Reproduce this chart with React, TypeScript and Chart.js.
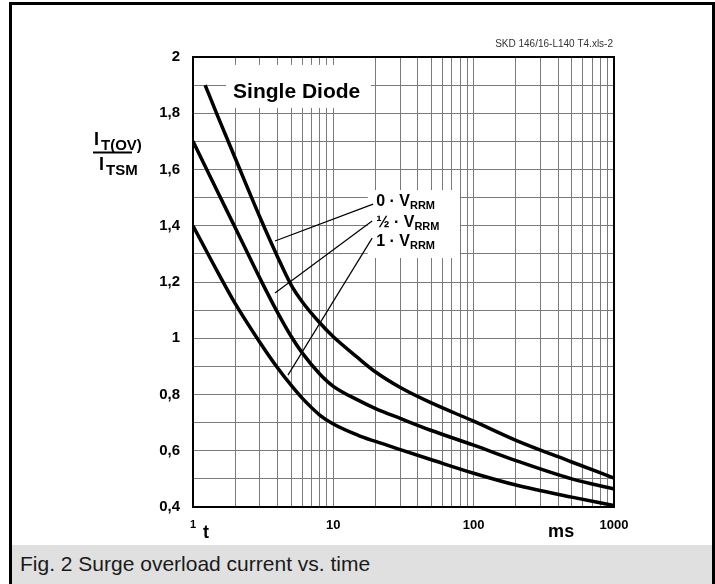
import React, { useEffect, useRef } from 'react';
import { Chart, registerables } from 'chart.js';

Chart.register(...registerables);

// ---- data ----
const curve0T = [1.22, 1.5, 2, 3, 4, 5, 6, 8, 10, 15, 20, 30, 50, 100, 200, 500, 1000];
const curve0I = [1.9, 1.79, 1.64, 1.43, 1.29, 1.19, 1.13, 1.055, 1.005, 0.93, 0.88, 0.825, 0.77, 0.705, 0.637, 0.56, 0.503];

const curveHalfT = [1, 1.5, 2, 3, 4, 5, 6, 8, 10, 15, 20, 30, 50, 100, 200, 500, 1000];
const curveHalfI = [1.7, 1.52, 1.393, 1.213, 1.092, 1.007, 0.948, 0.873, 0.829, 0.78, 0.75, 0.715, 0.672, 0.62, 0.565, 0.5, 0.464];

const curve1T = [1, 1.5, 2, 3, 4, 5, 6, 8, 10, 15, 20, 30, 50, 100, 200, 500, 1000];
const curve1I = [1.4, 1.235, 1.123, 0.985, 0.895, 0.833, 0.787, 0.727, 0.695, 0.655, 0.633, 0.604, 0.568, 0.52, 0.478, 0.435, 0.405];

const seriesNames = ['0 · V', '½ · V', '1 · V'];
const seriesSub = 'RRM';

const xGridValues = [1, 2, 3, 4, 5, 6, 7, 8, 9, 10, 20, 30, 40, 50, 60, 70, 80, 90, 100, 200, 300, 400, 500, 600, 700, 800, 900, 1000];
const xLabelValues = [1, 10, 100, 1000];
const xTickLabels = ['1', '10', '100', '1000'];

const yGridValues = [0.4, 0.5, 0.6, 0.7, 0.8, 0.9, 1.0, 1.1, 1.2, 1.3, 1.4, 1.5, 1.6, 1.7, 1.8, 1.9, 2.0];
const yLabelValues = [0.4, 0.6, 0.8, 1.0, 1.2, 1.4, 1.6, 1.8, 2.0];
const yTickLabels = ['0,4', '0,6', '0,8', '1', '1,2', '1,4', '1,6', '1,8', '2'];

// annotation anchors in data coordinates
const legendTextT = 20.2;
const legendTextI = [1.47, 1.397, 1.328];
const leaderFromT = [19.2, 18.9, 18.9];
const leaderFromI = [1.477, 1.417, 1.356];
const leaderToT = [3.84, 3.84, 4.75];
const leaderToI = [1.346, 1.161, 0.869];
const legendBoxT = [17.6, 79.7];
const legendBoxI = [1.285, 1.527];
const titleText = 'Single Diode';
const titleT = 1.93;
const titleI = 1.854;
const titleBoxT = [1.72, 18.5];
const titleBoxI = [1.819, 1.972];
const xUnitT = 1.24;
const xUnitMsT = 420;
const sourceText = 'SKD 146/16-L140 T4.xls-2';
const captionText = 'Fig. 2 Surge overload current vs. time';

const FONT = '"Liberation Sans", Arial, Helvetica, sans-serif';
const GRID = '#7a7a7a';

const toPoints = (ts: number[], is: number[]) => ts.map((t, i) => ({ x: t, y: is[i] }));

const annotPlugin = {
  id: 'annot',
  beforeDatasetsDraw(chart: any) {
    const { ctx, scales } = chart;
    const x = scales.x, y = scales.y;
    ctx.save();
    ctx.fillStyle = '#ffffff';
    const fillBox = (ts: number[], is: number[]) => {
      const x0 = x.getPixelForValue(ts[0]);
      const x1 = x.getPixelForValue(ts[1]);
      const y0 = y.getPixelForValue(is[1]);
      const y1 = y.getPixelForValue(is[0]);
      ctx.fillRect(x0, y0, x1 - x0, y1 - y0);
    };
    fillBox(titleBoxT, titleBoxI);
    fillBox(legendBoxT, legendBoxI);
    ctx.restore();
  },
  afterDatasetsDraw(chart: any) {
    const { ctx, scales, chartArea } = chart;
    const x = scales.x, y = scales.y;
    ctx.save();
    // plot border
    ctx.strokeStyle = '#000';
    ctx.lineWidth = 2;
    ctx.strokeRect(chartArea.left, chartArea.top, chartArea.right - chartArea.left, chartArea.bottom - chartArea.top);

    // leader lines
    ctx.lineWidth = 1.2;
    for (let i = 0; i < leaderFromT.length; i++) {
      ctx.beginPath();
      ctx.moveTo(x.getPixelForValue(leaderFromT[i]), y.getPixelForValue(leaderFromI[i]));
      ctx.lineTo(x.getPixelForValue(leaderToT[i]), y.getPixelForValue(leaderToI[i]));
      ctx.stroke();
    }

    // legend labels
    ctx.fillStyle = '#000';
    ctx.textBaseline = 'alphabetic';
    ctx.textAlign = 'left';
    for (let i = 0; i < seriesNames.length; i++) {
      const lx = x.getPixelForValue(legendTextT);
      const ly = y.getPixelForValue(legendTextI[i]);
      ctx.font = `bold 16px ${FONT}`;
      ctx.fillText(seriesNames[i], lx, ly);
      const w = ctx.measureText(seriesNames[i]).width;
      ctx.font = `bold 11px ${FONT}`;
      ctx.fillText(seriesSub, lx + w, ly + 3);
    }

    // title
    ctx.font = `bold 21px ${FONT}`;
    ctx.fillText(titleText, x.getPixelForValue(titleT), y.getPixelForValue(titleI));
    ctx.restore();
  },
  afterDraw(chart: any) {
    const { ctx, scales, chartArea } = chart;
    const x = scales.x;
    ctx.save();
    ctx.fillStyle = '#000';
    ctx.textBaseline = 'alphabetic';
    ctx.textAlign = 'left';
    // y-axis title as fraction
    ctx.font = `bold 18px ${FONT}`;
    ctx.fillText('I', 94, 145);
    ctx.font = `bold 15px ${FONT}`;
    ctx.fillText('T(OV)', 101, 150);
    ctx.fillRect(93, 151.5, 39, 2);
    ctx.font = `bold 18px ${FONT}`;
    ctx.fillText('I', 99, 170);
    ctx.font = `bold 15px ${FONT}`;
    ctx.fillText('TSM', 106, 175);

    // x axis unit labels
    ctx.textAlign = 'center';
    ctx.textBaseline = 'middle';
    ctx.font = `bold 18px ${FONT}`;
    ctx.fillText('t', x.getPixelForValue(xUnitT), chartArea.bottom + 26);
    ctx.fillText('ms', x.getPixelForValue(xUnitMsT), chartArea.bottom + 25);

    // source text
    ctx.textAlign = 'right';
    ctx.textBaseline = 'alphabetic';
    ctx.font = `10px ${FONT}`;
    ctx.fillStyle = '#333';
    ctx.fillText(sourceText, chartArea.right - 1, 47);
    ctx.restore();
  },
};

export default function App() {
  const canvasRef = useRef<HTMLCanvasElement | null>(null);

  useEffect(() => {
    const canvas = canvasRef.current;
    if (!canvas) return;
    const lineStyle = {
      borderColor: '#000',
      borderWidth: 3.5,
      pointRadius: 0,
      fill: false,
      cubicInterpolationMode: 'monotone' as const,
    };
    const chart = new Chart(canvas, {
      type: 'line',
      data: {
        datasets: [
          { label: seriesNames[0] + seriesSub, data: toPoints(curve0T, curve0I), ...lineStyle },
          { label: seriesNames[1] + seriesSub, data: toPoints(curveHalfT, curveHalfI), ...lineStyle },
          { label: seriesNames[2] + seriesSub, data: toPoints(curve1T, curve1I), ...lineStyle },
        ],
      },
      options: {
        animation: false,
        responsive: false,
        devicePixelRatio: 1,
        layout: { padding: { left: 0, top: 57, right: 101, bottom: 0 } },
        plugins: { legend: { display: false }, tooltip: { enabled: false } },
        scales: {
          x: {
            type: 'logarithmic',
            min: 1,
            max: 1000,
            afterBuildTicks: (s: any) => {
              s.ticks = xGridValues.map((v) => ({ value: v }));
            },
            afterFit: (s: any) => {
              s.height = 38;
            },
            grid: { color: GRID, lineWidth: 1, drawTicks: false },
            border: { display: false },
            ticks: {
              autoSkip: false,
              maxRotation: 0,
              minRotation: 0,
              padding: 11,
              color: '#000',
              font: (c: any) => ({ family: FONT, weight: 'bold', size: c.tick && c.tick.value === 1 ? 11 : 13 }),
              callback: (v: any) => {
                const i = xLabelValues.indexOf(Number(v));
                return i >= 0 ? xTickLabels[i] : '';
              },
            },
          },
          y: {
            type: 'linear',
            min: 0.4,
            max: 2,
            afterBuildTicks: (s: any) => {
              s.ticks = yGridValues.map((v) => ({ value: v }));
            },
            afterFit: (s: any) => {
              s.width = 193;
            },
            grid: { color: GRID, lineWidth: 1, drawTicks: false },
            border: { display: false },
            ticks: {
              autoSkip: false,
              padding: 13,
              color: '#000',
              font: { family: FONT, weight: 'bold', size: 15 },
              callback: (v: any) => {
                const i = yLabelValues.findIndex((lv) => Math.abs(lv - Number(v)) < 1e-6);
                return i >= 0 ? yTickLabels[i] : '';
              },
            },
          },
        },
      },
      plugins: [annotPlugin],
    });
    return () => chart.destroy();
  }, []);

  return (
    <div style={{ position: 'absolute', left: 0, top: 0, width: 715, height: 584, overflow: 'hidden', background: '#fff' }}>
      <div
        style={{
          position: 'absolute',
          left: 9,
          top: 2,
          width: 706,
          height: 640,
          border: '3px solid #000',
          boxSizing: 'border-box',
          background: '#fff',
        }}
      />
      <div
        style={{
          position: 'absolute',
          left: 12,
          top: 545,
          width: 700,
          height: 60,
          background: '#e0e0e0',
          fontFamily: FONT,
          fontSize: 21,
          color: '#1a1a1a',
          lineHeight: '38px',
          paddingLeft: 8,
          boxSizing: 'border-box',
          whiteSpace: 'nowrap',
        }}
      >
        {captionText}
      </div>
      <canvas
        ref={canvasRef}
        width={715}
        height={545}
        style={{ position: 'absolute', left: 0, top: 0, width: 715, height: 545 }}
      />
    </div>
  );
}
